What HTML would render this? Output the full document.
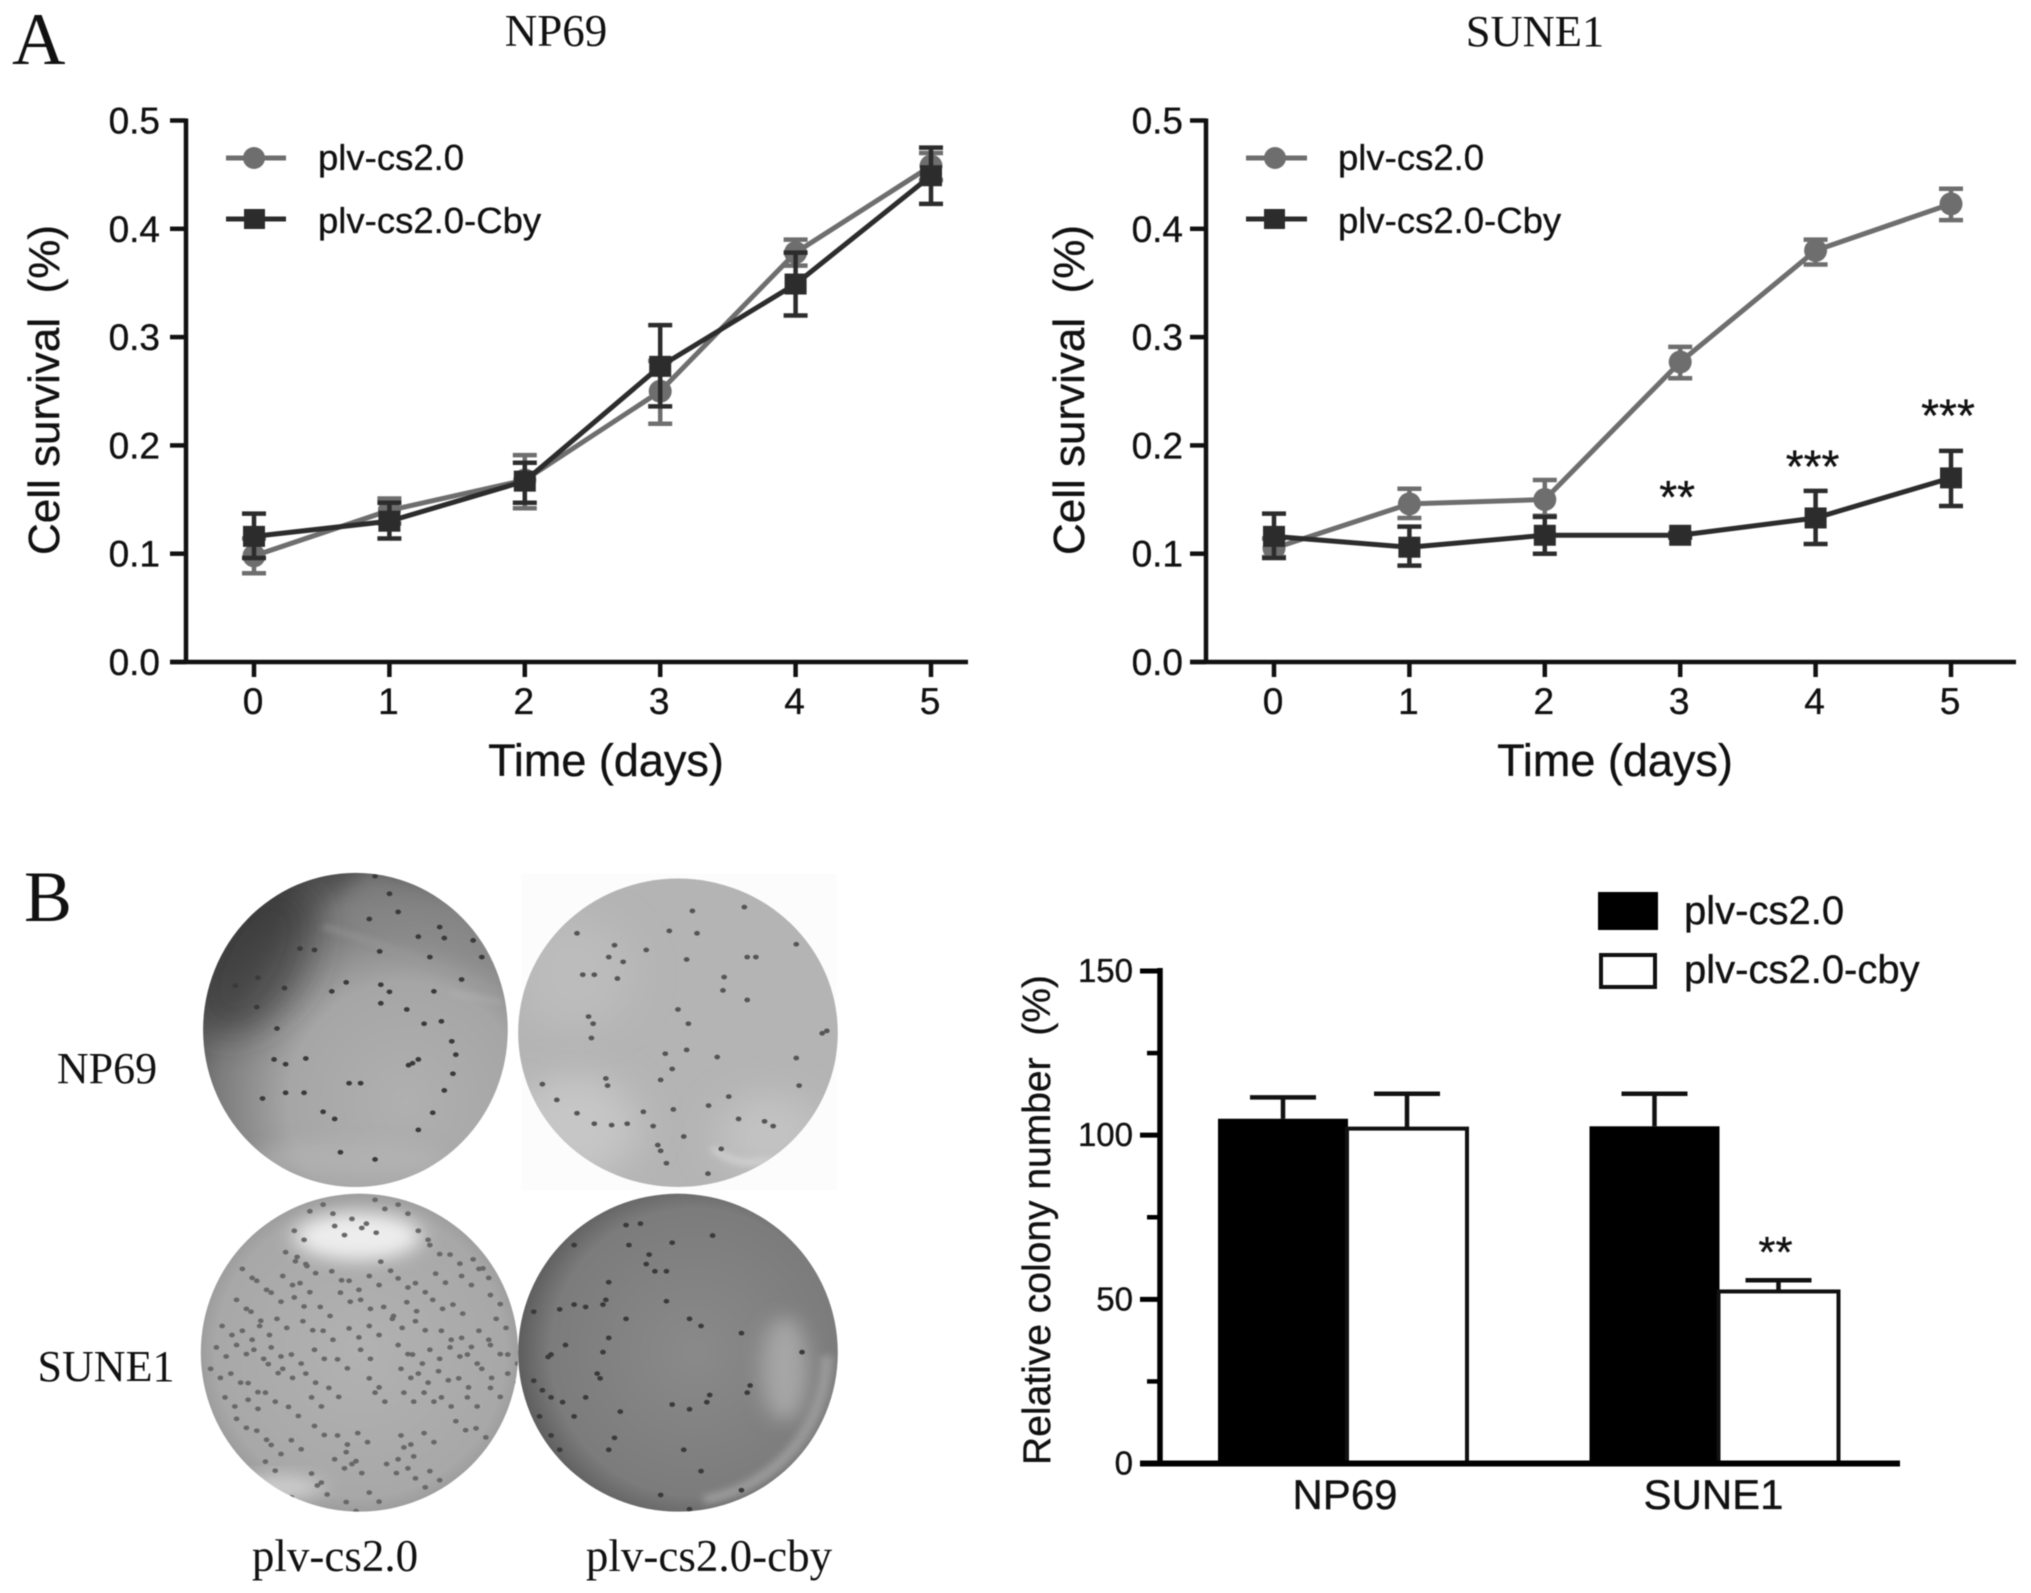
<!DOCTYPE html>
<html lang="en">
<head>
<meta charset="utf-8">
<title>Cell survival and colony formation</title>
<style>
html,body{margin:0;padding:0;background:#fff;}
svg{display:block;filter:blur(0.6px);}
.sans{font-family:"Liberation Sans",Arial,sans-serif;fill:#111;stroke:#111;stroke-width:0.35px;}
.serif{font-family:"Liberation Serif","Times New Roman",serif;fill:#111;}
</style>
</head>
<body>
<svg id="figure" xmlns="http://www.w3.org/2000/svg" width="2031" height="1593" viewBox="0 0 2031 1593">
<defs>
<filter id="softest" x="-80%" y="-80%" width="260%" height="260%"><feGaussianBlur stdDeviation="34"/></filter>
<filter id="soft" x="-40%" y="-40%" width="180%" height="180%"><feGaussianBlur stdDeviation="18"/></filter>
<filter id="softer" x="-40%" y="-40%" width="180%" height="180%"><feGaussianBlur stdDeviation="7"/></filter>
<radialGradient id="p1g" cx="0.66" cy="0.72" r="0.82"><stop offset="0" stop-color="#b0b0b0"/><stop offset="0.45" stop-color="#a6a6a6"/><stop offset="0.72" stop-color="#7c7c7c"/><stop offset="0.92" stop-color="#4c4c4c"/><stop offset="1" stop-color="#3a3a3a"/></radialGradient>
<radialGradient id="p3g" cx="0.5" cy="0.5" r="0.55"><stop offset="0" stop-color="#b2b2b2"/><stop offset="0.8" stop-color="#a8a8a8"/><stop offset="1" stop-color="#8e8e8e"/></radialGradient>
<radialGradient id="p4g" cx="0.55" cy="0.5" r="0.56"><stop offset="0" stop-color="#8a8a8a"/><stop offset="0.78" stop-color="#7c7c7c"/><stop offset="1" stop-color="#565656"/></radialGradient>
<clipPath id="c1"><ellipse cx="616" cy="378" rx="264" ry="330"/></clipPath>
<clipPath id="c2"><ellipse cx="1180" cy="384" rx="277" ry="324"/></clipPath>
<clipPath id="c3"><ellipse cx="623" cy="1056" rx="275" ry="334"/></clipPath>
<clipPath id="c4"><ellipse cx="1180" cy="1056" rx="277" ry="334"/></clipPath>
</defs>
<rect width="2031" height="1593" fill="#fff"/>

<text class="serif" x="12" y="64" font-size="74">A</text>
<text class="serif" x="556" y="46" font-size="45" text-anchor="middle">NP69</text>
<text class="serif" x="1535" y="46" font-size="44.5" text-anchor="middle">SUNE1</text>
<text class="serif" x="24" y="921" font-size="72">B</text>

<g id="chart-np69"></g>
<g id="chart-sune1"></g>

<g>
<line x1="226" y1="158" x2="286" y2="158" stroke="#6e6e6e" stroke-width="5"/><circle cx="254" cy="158" r="11" fill="#6e6e6e"/>
<text class="sans" x="318" y="170" font-size="36.5">plv-cs2.0</text>
<line x1="226" y1="219" x2="286" y2="219" stroke="#2c2c2c" stroke-width="5"/><rect x="244" y="209" width="21" height="20" fill="#2c2c2c"/>
<text class="sans" x="318" y="233" font-size="36.5">plv-cs2.0-Cby</text>
</g>
<g>
<line x1="1246" y1="158" x2="1307" y2="158" stroke="#6e6e6e" stroke-width="5"/><circle cx="1275" cy="158" r="11" fill="#6e6e6e"/>
<text class="sans" x="1338" y="170" font-size="36.5">plv-cs2.0</text>
<line x1="1246" y1="219" x2="1307" y2="219" stroke="#2c2c2c" stroke-width="5"/><rect x="1264" y="209" width="21" height="20" fill="#2c2c2c"/>
<text class="sans" x="1338" y="233" font-size="36.5">plv-cs2.0-Cby</text>
</g>

<g transform="translate(0 850) scale(0.577 0.476)">
<rect x="905" y="50" width="545" height="665" fill="#fcfcfc"/>
<g clip-path="url(#c1)">
<rect x="340" y="40" width="550" height="680" fill="url(#p1g)"/>
<ellipse cx="440" cy="230" rx="90" ry="170" transform="rotate(22 440 230)" fill="#2e2e2e" opacity="0.6" filter="url(#softest)"/>
<path d="M560 140 Q700 190 860 260 L880 120 L640 40Z" fill="#8a8a8a" opacity="0.6" filter="url(#soft)"/>
<path d="M560 160 Q720 220 860 300" stroke="#9a9a9a" stroke-width="12" fill="none" opacity="0.6" filter="url(#softer)"/>
<path d="M780 300 L870 320" stroke="#b8b8b8" stroke-width="8" opacity="0.6" filter="url(#softer)"/>
<ellipse cx="600" cy="650" rx="170" ry="40" fill="#b8b8b8" opacity="0.5" filter="url(#soft)"/>
<path id="dots-p1" d="" fill="none" stroke="#3a3a3a" stroke-width="10" stroke-linecap="round"/>
</g>
<g transform="translate(-5 0)">
<g clip-path="url(#c2)">
<rect x="890" y="50" width="580" height="670" fill="#b4b4b4"/>
<ellipse cx="1000" cy="580" rx="110" ry="110" fill="#c6c6c6" filter="url(#softest)"/>
<ellipse cx="1000" cy="260" rx="100" ry="120" fill="#bcbcbc" filter="url(#softest)"/>
<ellipse cx="1340" cy="600" rx="90" ry="90" fill="#c2c2c2" filter="url(#softest)"/>
<path d="M1240 625 Q1280 670 1340 650" stroke="#dcdcdc" stroke-width="8" fill="none" filter="url(#softer)"/>
<path id="dots-p2" d="" fill="none" stroke="#555" stroke-width="10" stroke-linecap="round"/>
</g>
</g>
<g clip-path="url(#c3)">
<rect x="340" y="710" width="570" height="690" fill="url(#p3g)"/>
<ellipse cx="620" cy="812" rx="110" ry="50" fill="#ededed" filter="url(#soft)"/>
<ellipse cx="470" cy="1340" rx="90" ry="26" fill="#cfcfcf" filter="url(#soft)"/>
<path id="dots-p3" d="" fill="none" stroke="#686868" stroke-width="10" stroke-linecap="round"/>
</g>
<g transform="translate(-5 0)">
<g clip-path="url(#c4)">
<rect x="895" y="710" width="570" height="690" fill="url(#p4g)"/>
<ellipse cx="1180" cy="1062" rx="258" ry="308" fill="none" stroke="#9a9a9a" stroke-width="20" stroke-dasharray="1100 2000" stroke-dashoffset="700" filter="url(#softer)"/>
<ellipse cx="1365" cy="1090" rx="40" ry="110" fill="#a6a6a6" filter="url(#soft)"/>
<path id="dots-p4" d="" fill="none" stroke="#3a3a3a" stroke-width="10" stroke-linecap="round"/>
</g>
</g>
</g>
<text class="serif" x="107" y="1083" font-size="44" text-anchor="middle">NP69</text>
<text class="serif" x="106" y="1381" font-size="44" text-anchor="middle">SUNE1</text>
<text class="serif" x="335" y="1571" font-size="45" text-anchor="middle">plv-cs2.0</text>
<text class="serif" x="709" y="1571" font-size="45" text-anchor="middle">plv-cs2.0-cby</text>

<g id="chart-bars"></g>
<g>
<rect x="1604" y="892" width="60" height="38" fill="#000" transform="translate(-6 0)"/>
<text class="sans" x="1684" y="924" font-size="40">plv-cs2.0</text>
<rect x="1601" y="955" width="54" height="32" fill="#fff" stroke="#111" stroke-width="4"/>
<text class="sans" x="1684" y="983" font-size="40">plv-cs2.0-cby</text>
</g>
</svg>
<script>
// ---- Line chart data ----
const days = [0, 1, 2, 3, 4, 5];
const survivalTicks = ['0.0', '0.1', '0.2', '0.3', '0.4', '0.5'];

const np69Control = [0.098, 0.140, 0.168, 0.250, 0.378, 0.458];
const np69ControlLow = [0.082, 0.128, 0.142, 0.220, 0.366, 0.445];
const np69ControlHigh = [0.114, 0.151, 0.191, 0.278, 0.390, 0.470];
const np69Cby = [0.116, 0.130, 0.167, 0.273, 0.349, 0.449];
const np69CbyLow = [0.096, 0.114, 0.147, 0.236, 0.320, 0.423];
const np69CbyHigh = [0.137, 0.147, 0.184, 0.311, 0.378, 0.475];

const sune1Control = [0.105, 0.146, 0.150, 0.277, 0.380, 0.423];
const sune1ControlLow = [0.097, 0.133, 0.135, 0.262, 0.367, 0.408];
const sune1ControlHigh = [0.114, 0.160, 0.168, 0.291, 0.390, 0.437];
const sune1Cby = [0.116, 0.106, 0.117, 0.117, 0.133, 0.170];
const sune1CbyLow = [0.096, 0.089, 0.100, 0.115, 0.109, 0.144];
const sune1CbyHigh = [0.137, 0.125, 0.134, 0.119, 0.158, 0.195];
const sune1Stars = ['', '', '', '**', '***', '***'];
const sune1StarLevels = [0, 0, 0, 0.159, 0.187, 0.234];

// ---- Bar chart data ----
const barCategories = ['NP69', 'SUNE1'];
const barControl = [105, 102.7];
const barControlHigh = [111.5, 112.6];
const barCby = [102, 52.4];
const barCbyHigh = [112.6, 55.8];
const barStars = ['', '**'];
const barStarLevels = [0, 67.5];
const colonyMajorTicks = ['0', '50', '100', '150'];
const colonyMinorTicks = [25, 75, 125];

// ---- Colony spots on plate photos (photo texture, not chart data) ----
const spotsP1 = [520,207,545,210,658,213,762,162,770,185,725,182,745,225,820,190,835,225,800,272,752,297,640,145,690,130,675,92,650,55,600,278,575,297,660,283,675,298,493,290,447,268,408,285,445,330,480,375,660,322,705,335,735,365,765,360,783,402,790,430,715,448,708,452,725,440,785,470,770,505,750,552,725,588,605,490,625,490,475,440,495,450,530,438,455,522,495,510,527,510,560,550,580,565,650,650,590,635];
const spotsP2 = [1005,175,1165,170,1213,175,1205,128,1295,120,1385,198,1070,200,1125,210,1060,225,1085,235,1195,230,1300,225,1315,225,1015,262,1035,262,1075,270,1260,267,1258,295,1300,315,1025,350,1033,365,1030,395,1198,365,1180,335,1438,380,1430,385,1195,420,1158,428,1248,435,1385,437,1170,460,1150,483,1055,480,1058,495,945,492,970,525,1005,553,1172,545,1120,550,1233,537,1268,518,1330,570,1345,580,1285,565,1035,575,1065,578,1092,575,1137,580,1190,602,1145,620,1150,632,1160,658,1232,680,1255,628,1390,495];
const spotsP3 = [520,740,560,745,650,735,690,745,610,775,580,790,635,785,725,800,510,800,745,830,495,845,515,855,530,870,660,865,780,850,820,860,420,880,445,905,490,895,520,910,575,885,605,905,640,895,690,900,720,910,755,890,800,895,830,880,470,930,510,940,555,960,590,930,625,945,665,960,705,950,750,945,785,955,850,935,410,945,435,970,385,1000,420,1010,450,1000,480,985,525,990,560,1010,605,1005,640,1000,680,985,720,990,765,1010,800,1025,830,1010,860,985,375,1045,410,1040,440,1050,470,1045,505,1060,545,1050,585,1070,625,1050,690,1040,715,1060,745,1050,780,1045,810,1060,850,1040,880,1060,365,1090,400,1100,430,1120,465,1080,490,1090,530,1100,640,1110,695,1090,725,1100,760,1095,795,1110,835,1090,880,1100,390,1150,430,1155,460,1140,500,1170,540,1150,570,1130,650,1140,700,1140,735,1140,765,1150,810,1150,850,1130,410,1195,445,1220,470,1250,505,1240,545,1210,585,1230,620,1225,600,1265,580,1280,610,1290,695,1230,700,1255,690,1280,735,1225,790,1200,825,1215,460,1285,540,1310,550,1335,670,1290,745,1305,720,1320,640,1350,600,1370,505,1360];
const spotsP4 = [1090,788,1115,785,1000,830,1095,830,1130,850,1125,870,1140,885,1160,885,1240,810,1170,825,1060,908,1050,955,1055,945,1020,960,1000,955,975,965,930,970,1090,985,1160,948,1200,985,1220,1000,1060,1025,1290,1015,960,1060,985,1040,1050,1055,1395,1055,1045,1110,955,1065,930,1115,945,1135,960,1150,980,1160,1000,1190,1020,1150,1080,1180,1170,1165,1200,1175,1235,1145,1230,1160,1305,1125,1300,1140,940,1190,960,1230,975,1260,1060,1260,1070,1235,1190,1260,1220,1305,1150,1355,1200,1385,1290,1345,1040,1100];

const SVG_NS = 'http://www.w3.org/2000/svg';
const FONT_SANS = 'sans';

function make(tag, attrs, parent, content) {
  const node = document.createElementNS(SVG_NS, tag);
  for (const key in attrs) node.setAttribute(key, attrs[key]);
  if (content !== undefined) node.textContent = content;
  parent.appendChild(node);
  return node;
}

function spotPath(spots, dx, dy) {
  let d = '';
  for (let i = 0; i < spots.length; i += 2) d += 'M' + (spots[i] + dx) + ' ' + (spots[i + 1] + dy) + 'h0';
  return d;
}
document.getElementById('dots-p1').setAttribute('d', spotPath(spotsP1, 0, 0));
document.getElementById('dots-p2').setAttribute('d', spotPath(spotsP2, 0, 0));
document.getElementById('dots-p3').setAttribute('d', spotPath(spotsP3, 0, 0) + spotPath(spotsP3, 17, 19));
document.getElementById('dots-p4').setAttribute('d', spotPath(spotsP4, 0, 0));

function drawSeries(g, xScale, yScale, values, low, high, color, shape, seriesName) {
  const points = values.map(function (v, i) { return xScale(days[i]) + ',' + yScale(v); }).join(' ');
  values.forEach(function (v, i) {
    const cx = xScale(days[i]);
    const stem = make('line', { x1: cx, x2: cx, y1: yScale(low[i]), y2: yScale(high[i]), stroke: color, 'stroke-width': 4.5 }, g);
    
    
    const capTop = make('line', { x1: cx - 12, x2: cx + 12, y1: yScale(high[i]), y2: yScale(high[i]), stroke: color, 'stroke-width': 4.5 }, g);
    
    
    const capLow = make('line', { x1: cx - 12, x2: cx + 12, y1: yScale(low[i]), y2: yScale(low[i]), stroke: color, 'stroke-width': 4.5 }, g);
    
    
  });
  const line = make('polyline', { points: points, fill: 'none', stroke: color, 'stroke-width': 5, 'stroke-linejoin': 'round' }, g);
  
  
  values.forEach(function (v, i) {
    const cx = xScale(days[i]);
    const cy = yScale(v);
    let marker;
    if (shape === 'circle') {
      marker = make('circle', { cx: cx, cy: cy, r: 11.5, fill: color }, g);
    } else {
      marker = make('rect', { x: cx - 11, y: cy - 10.5, width: 22, height: 21, fill: color }, g);
    }
    
    
  });
}

function drawLinePanel(g, geo, control, controlLow, controlHigh, cby, cbyLow, cbyHigh, name) {
  const xScale = function (d) { return geo.x0 + (d - days[0]) / (days[days.length - 1] - days[0]) * (geo.x5 - geo.x0); };
  const yScale = function (v) { return geo.yBase + (v / 0.5) * (geo.yTop - geo.yBase); };

  const yAxis = make('line', { x1: geo.axisX, x2: geo.axisX, y1: geo.yTop - 2, y2: geo.yBase + 2, stroke: '#111', 'stroke-width': 4.5 }, g);
  
  
  const xAxis = make('line', { x1: geo.tickLeft, x2: geo.axisEnd, y1: geo.yBase, y2: geo.yBase, stroke: '#111', 'stroke-width': 4.5 }, g);
  
  

  survivalTicks.forEach(function (label) {
    const ty = yScale(parseFloat(label));
    const tick = make('line', { x1: geo.tickLeft, x2: geo.axisX, y1: ty, y2: ty, stroke: '#111', 'stroke-width': 4.5 }, g);
    
    
    const text = make('text', { class: FONT_SANS, x: geo.labelRight, y: ty + 13, 'font-size': 37, 'text-anchor': 'end' }, g, label);
    
    
  });
  days.forEach(function (d) {
    const tx = xScale(d);
    const tick = make('line', { x1: tx, x2: tx, y1: geo.yBase, y2: geo.yBase + 15, stroke: '#111', 'stroke-width': 4.5 }, g);
    
    
    const text = make('text', { class: FONT_SANS, x: tx - 1, y: 714, 'font-size': 37, 'text-anchor': 'middle' }, g, String(d));
    
    
  });

  const xTitle = make('text', { class: FONT_SANS, x: geo.xTitleX, y: 776, 'font-size': 45, 'text-anchor': 'middle' }, g, 'Time (days)');
  
  
  const yTitle = make('text', { class: FONT_SANS, 'font-size': 44, 'text-anchor': 'middle', transform: 'translate(' + geo.yTitleX + ' 390) rotate(-90)', 'xml:space': 'preserve', style: 'white-space:pre' }, g, 'Cell survival  (%)');
  
  

  drawSeries(g, xScale, yScale, control, controlLow, controlHigh, '#6e6e6e', 'circle', name + '-control');
  drawSeries(g, xScale, yScale, cby, cbyLow, cbyHigh, '#2c2c2c', 'square', name + '-cby');
  return { x: xScale, y: yScale };
}

drawLinePanel(document.getElementById('chart-np69'),
  { x0: 254, x5: 931, yBase: 662, yTop: 120.5, axisX: 186, axisEnd: 968, tickLeft: 170, labelRight: 160, xTitleX: 606, yTitleX: 59 },
  np69Control, np69ControlLow, np69ControlHigh, np69Cby, np69CbyLow, np69CbyHigh, 'np69');

const sune1Group = document.getElementById('chart-sune1');
const sune1Scales = drawLinePanel(sune1Group,
  { x0: 1274, x5: 1951, yBase: 662, yTop: 120.5, axisX: 1206, axisEnd: 2016, tickLeft: 1190, labelRight: 1183, xTitleX: 1615, yTitleX: 1084 },
  sune1Control, sune1ControlLow, sune1ControlHigh, sune1Cby, sune1CbyLow, sune1CbyHigh, 'sune1');

sune1Stars.forEach(function (star, i) {
  if (!star) return;
  const mark = make('text', { class: FONT_SANS, x: sune1Scales.x(days[i]) - 3, y: sune1Scales.y(sune1StarLevels[i]) + 23, 'font-size': 46, 'text-anchor': 'middle' }, sune1Group, star);
  
  
});

// ---- Bar chart ----
(function () {
  const g = document.getElementById('chart-bars');
  const axisX = 1160;
  const yBase = 1463.5;
  const yTop = 971;
  const yScale = function (v) { return yBase + (v / 150) * (yTop - yBase); };
  const groupX = function (i) { return 1218 + i * 371.5; };

  barCategories.forEach(function (cat, i) {
    const start = groupX(i);
    const controlCentre = start + 65;
    const cbyCentre = start + 189;

    const stemA = make('line', { x1: controlCentre, x2: controlCentre, y1: yScale(barControl[i]), y2: yScale(barControlHigh[i]), stroke: '#111', 'stroke-width': 4.5 }, g);
    
    
    const capA = make('line', { x1: controlCentre - 33, x2: controlCentre + 33, y1: yScale(barControlHigh[i]), y2: yScale(barControlHigh[i]), stroke: '#111', 'stroke-width': 4.5 }, g);
    
    
    const stemB = make('line', { x1: cbyCentre, x2: cbyCentre, y1: yScale(barCby[i]), y2: yScale(barCbyHigh[i]), stroke: '#111', 'stroke-width': 4.5 }, g);
    
    
    const capB = make('line', { x1: cbyCentre - 33, x2: cbyCentre + 33, y1: yScale(barCbyHigh[i]), y2: yScale(barCbyHigh[i]), stroke: '#111', 'stroke-width': 4.5 }, g);
    
    

    const barA = make('rect', { x: start, y: yScale(barControl[i]), width: 130, height: yBase - yScale(barControl[i]), fill: '#000' }, g);
    
    
    const barB = make('rect', { x: start + 129, y: yScale(barCby[i]), width: 120, height: yBase - yScale(barCby[i]), fill: '#fff', stroke: '#111', 'stroke-width': 4 }, g);
    
    

    const label = make('text', { class: FONT_SANS, x: start + 127 + (i ? -3 : 0), y: 1509, 'font-size': 42, 'text-anchor': 'middle' }, g, cat);
    
    

    if (barStars[i]) {
      const mark = make('text', { class: FONT_SANS, x: cbyCentre - 3, y: yScale(barStarLevels[i]) + 25, 'font-size': 44, 'text-anchor': 'middle' }, g, barStars[i]);
      
      
    }
  });

  const yAxis = make('line', { x1: axisX, x2: axisX, y1: yTop - 3, y2: yBase + 3, stroke: '#000', 'stroke-width': 5.5 }, g);
  
  
  const xAxis = make('line', { x1: 1140, x2: 1900, y1: yBase, y2: yBase, stroke: '#000', 'stroke-width': 6 }, g);
  
  

  colonyMajorTicks.forEach(function (label) {
    const ty = yScale(Number(label));
    const tick = make('line', { x1: 1140, x2: axisX, y1: ty, y2: ty, stroke: '#000', 'stroke-width': 5 }, g);
    
    
    const text = make('text', { class: FONT_SANS, x: 1133, y: ty + 11, 'font-size': 33, 'text-anchor': 'end' }, g, label);
    
    
  });
  colonyMinorTicks.forEach(function (value) {
    const ty = yScale(value);
    const tick = make('line', { x1: 1147, x2: axisX, y1: ty, y2: ty, stroke: '#000', 'stroke-width': 4.5 }, g);
    
    
  });

  const yTitle = make('text', { class: FONT_SANS, 'font-size': 39, 'text-anchor': 'middle', transform: 'translate(1050 1220) rotate(-90)', 'xml:space': 'preserve', style: 'white-space:pre' }, g, 'Relative colony number  (%)');
  
  
})();
</script>
</body>
</html>
